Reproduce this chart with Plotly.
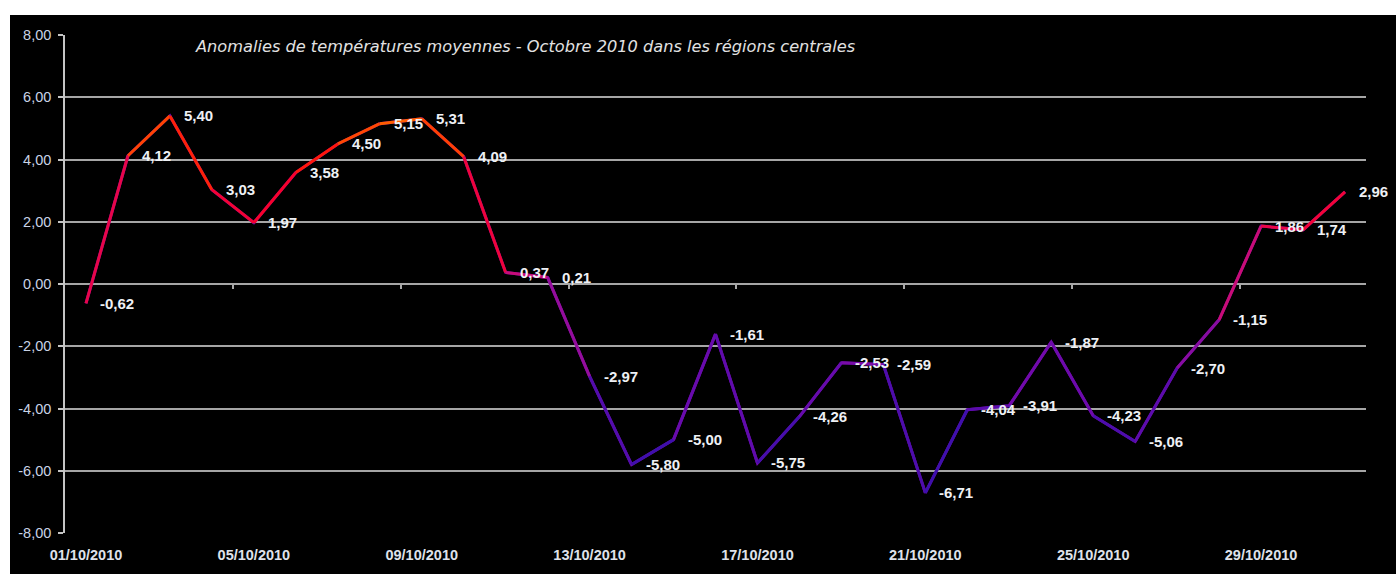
import plotly.graph_objects as go

# ---------------- data ----------------
dates = [f"{d:02d}/10/2010" for d in range(1, 32)]
values = [-0.62, 4.12, 5.40, 3.03, 1.97, 3.58, 4.50, 5.15, 5.31, 4.09,
          0.37, 0.21, -2.97, -5.80, -5.00, -1.61, -5.75, -4.26, -2.53, -2.59,
          -6.71, -4.04, -3.91, -1.87, -4.23, -5.06, -2.70, -1.15, 1.86, 1.74,
          2.96]
title_text = "Anomalies de températures moyennes - Octobre 2010 dans les régions centrales"
y_ticks = [-8, -6, -4, -2, 0, 2, 4, 6, 8]
x_tick_every = 4

# ---------------- style helpers ----------------
W, H = 1396, 574
ML, MR, MT, MB = 65, 30, 35, 41
PW, PH = W - ML - MR, H - MT - MB


def px_x(p):
    return (p - ML) / PW


def px_y(q):
    return (H - MB - q) / PH


stops = [(-7.0, (30, 20, 150)), (-5.5, (60, 15, 172)), (-3.0, (110, 10, 172)),
         (-1.0, (158, 14, 152)), (0.0, (192, 14, 130)), (1.5, (228, 6, 80)),
         (3.0, (252, 0, 36)), (4.0, (255, 20, 10)), (5.0, (255, 82, 0)),
         (5.6, (255, 110, 0))]


def colour(v):
    if v <= stops[0][0]:
        c = stops[0][1]
    elif v >= stops[-1][0]:
        c = stops[-1][1]
    else:
        for (a, ca), (b, cb) in zip(stops[:-1], stops[1:]):
            if a <= v <= b:
                t = (v - a) / (b - a)
                c = tuple(ca[k] + (cb[k] - ca[k]) * t for k in range(3))
                break
    return "rgb(%d,%d,%d)" % tuple(int(round(x)) for x in c)


def fr(v):
    return f"{v:.2f}".replace(".", ",")


xs = list(range(len(dates)))

fig = go.Figure()

# base continuous line (fills joints)
fig.add_trace(go.Scatter(x=xs, y=values, mode="lines",
                         line=dict(color=colour(-3.0), width=3),
                         hoverinfo="skip", showlegend=False))
# coloured segments
for i in range(len(values) - 1):
    m = (values[i] + values[i + 1]) / 2
    fig.add_trace(go.Scatter(x=[xs[i], xs[i + 1]], y=[values[i], values[i + 1]],
                             mode="lines", line=dict(color=colour(m), width=3),
                             hoverinfo="skip", showlegend=False))

# dummy trace for the crossing axis ticks
fig.add_trace(go.Scatter(x=[0], y=[None], xaxis="x2", mode="lines",
                         showlegend=False, hoverinfo="skip"))

# data labels
for x, v in zip(xs, values):
    fig.add_annotation(x=x, y=v, text=fr(v), showarrow=False,
                       xanchor="left", yanchor="middle", xshift=12,
                       font=dict(family="Liberation Sans, Arial", size=15,
                                 color="#eef0f4", weight="bold"))

# title
fig.add_annotation(xref="paper", yref="paper", x=px_x(193), y=px_y(47),
                   text=f"<i>{title_text}</i>", showarrow=False,
                   xanchor="left", yanchor="middle",
                   font=dict(family="DejaVu Sans", size=16.2, color="#e2e2e2"))

# white border strips (page outside the chart box)
fig.add_shape(type="rect", xref="paper", yref="paper",
              x0=px_x(-5), x1=px_x(W + 5), y0=px_y(15), y1=px_y(-5),
              fillcolor="white", line=dict(width=0), layer="above")
fig.add_shape(type="rect", xref="paper", yref="paper",
              x0=px_x(-5), x1=px_x(10), y0=px_y(H + 5), y1=px_y(-5),
              fillcolor="white", line=dict(width=0), layer="above")

xrange = [-0.5, len(dates) - 0.5]
tickvals_x = xs[::x_tick_every]
ticktext_x = dates[::x_tick_every]
between = [i + 0.5 for i in range(x_tick_every - 1, len(dates) - 1, x_tick_every)]

fig.update_layout(
    width=W, height=H,
    margin=dict(l=ML, r=MR, t=MT, b=MB, autoexpand=False),
    paper_bgcolor="black", plot_bgcolor="black",
    showlegend=False,
    xaxis=dict(range=xrange, tickvals=tickvals_x, ticktext=ticktext_x,
               showgrid=False, zeroline=False, automargin=False,
               showline=True, linecolor="black", linewidth=3, mirror=True,
               ticks="", ticklabelstandoff=7,
               tickfont=dict(family="Liberation Sans, Arial", size=14.5,
                             color="#dfe2ea", weight="bold")),
    xaxis2=dict(range=xrange, overlaying="x", anchor="free", position=0.5,
                side="bottom", tickvals=between, ticks="outside", ticklen=4,
                tickwidth=1.5, tickcolor="#a8a8a8", showticklabels=False,
                showgrid=False, zeroline=False, showline=False, automargin=False),
    yaxis=dict(range=[-8, 8], tickvals=y_ticks, ticktext=[fr(t) for t in y_ticks],
               showgrid=True, gridcolor="#a6a6a6", gridwidth=1.5,
               zeroline=False, showline=True, linecolor="#c4c4c4", linewidth=1.5,
               ticks="outside", ticklen=5, tickcolor="#c4c4c4", tickwidth=1.5,
               ticklabelstandoff=4, automargin=False,
               tickfont=dict(family="Liberation Sans, Arial", size=14.5,
                             color="#c9d3e6")),
)

fig.write_html("out.html",
               config={"displayModeBar": False},
               post_script="document.body.style.margin='0';"
                           "document.body.style.overflow='hidden';")
